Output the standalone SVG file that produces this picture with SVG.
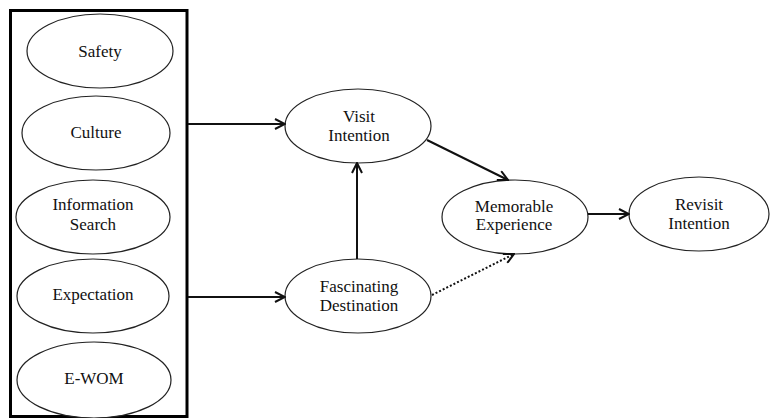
<svg xmlns="http://www.w3.org/2000/svg" width="770" height="418" viewBox="0 0 770 418">
<style>
.node ellipse{fill:#fff;stroke:#222;stroke-width:1.2}
.node text{font-family:"Liberation Serif","Times New Roman",serif;font-size:17px;fill:#111;text-anchor:middle}
.conn line{stroke:#111;stroke-width:2;fill:none}
.conn .dot{stroke-dasharray:2 2}
</style>
<defs>
<marker id="arr" viewBox="0 0 12 12" refX="11" refY="6" markerWidth="12" markerHeight="12" markerUnits="userSpaceOnUse" orient="auto">
<path d="M1,1 L11,6 L1,11" fill="none" stroke="#111" stroke-width="2"/>
</marker>
</defs>
<rect width="770" height="418" fill="#fff"/>
<g id="group-box"><rect x="10.5" y="10.5" width="176.5" height="406" fill="none" stroke="#000" stroke-width="3"/></g>
<g id="safety" class="node"><ellipse cx="100" cy="51" rx="73" ry="37"/><text x="100" y="57">Safety</text></g>
<g id="culture" class="node"><ellipse cx="96" cy="133" rx="74" ry="37"/><text x="96" y="138">Culture</text></g>
<g id="information-search" class="node"><ellipse cx="93" cy="217" rx="77" ry="37"/><text x="93" y="210">Information</text><text x="93" y="230">Search</text></g>
<g id="expectation" class="node"><ellipse cx="93" cy="296" rx="76" ry="37"/><text x="93" y="300">Expectation</text></g>
<g id="ewom" class="node"><ellipse cx="94" cy="380" rx="77" ry="38"/><text x="94" y="384">E-WOM</text></g>
<g id="visit-intention" class="node"><ellipse cx="358" cy="126" rx="73" ry="37"/><text x="359" y="122">Visit</text><text x="359" y="141">Intention</text></g>
<g id="fascinating-destination" class="node"><ellipse cx="358" cy="296" rx="73" ry="37"/><text x="359" y="292">Fascinating</text><text x="359" y="311">Destination</text></g>
<g id="memorable-experience" class="node"><ellipse cx="515" cy="217" rx="73" ry="37"/><text x="514" y="212">Memorable</text><text x="514" y="230">Experience</text></g>
<g id="revisit-intention" class="node"><ellipse cx="699" cy="214" rx="70" ry="37"/><text x="699" y="210">Revisit</text><text x="699" y="229">Intention</text></g>
<g id="connectors" class="conn">
<line x1="188" y1="124" x2="285" y2="124" marker-end="url(#arr)"/>
<line x1="188" y1="297" x2="285" y2="297" marker-end="url(#arr)"/>
<line x1="357" y1="259" x2="357" y2="163" marker-end="url(#arr)"/>
<line x1="427" y1="140" x2="508" y2="180" marker-end="url(#arr)"/>
<line x1="588" y1="214" x2="629" y2="214" marker-end="url(#arr)"/>
<line class="dot" x1="432" y1="295" x2="514" y2="254" marker-end="url(#arr)"/>
</g>
</svg>
